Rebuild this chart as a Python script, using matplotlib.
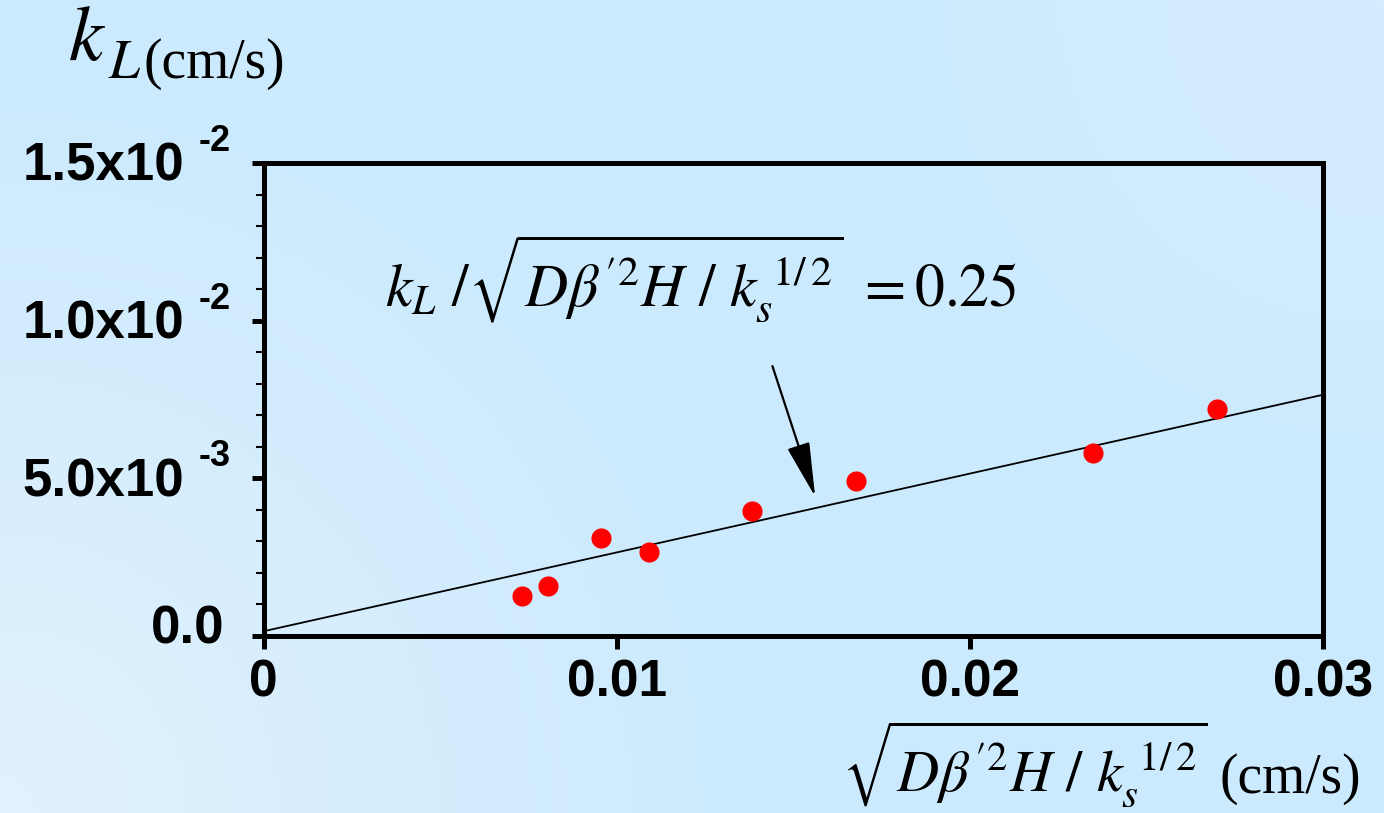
import numpy as np
import matplotlib
matplotlib.use("Agg")
import matplotlib.pyplot as plt

# ---- data ----
x_vals = [0.00731, 0.00805, 0.00956, 0.01092, 0.01383, 0.01678, 0.02350, 0.02699]
y_vals = [0.00127, 0.00159, 0.00311, 0.00266, 0.00396, 0.00493, 0.00581, 0.00719]
fit_x = [0.0, 0.03]
fit_y = [0.00015, 0.00765]
arrow_tail = (0.01441, 0.00856)
arrow_tip = (0.01562, 0.00442)
x_ticks = [0.0, 0.01, 0.02, 0.03]
x_tick_labels = ["0", "0.01", "0.02", "0.03"]
y_ticks = [0.0, 0.005, 0.01, 0.015]
y_tick_mant = ["0.0", "5.0x10", "1.0x10", "1.5x10"]
y_tick_exp = ["", "-3", "-2", "-2"]

plt.rcParams['mathtext.fontset'] = 'stix'

W, H = 1384, 813
fig = plt.figure(figsize=(W / 100, H / 100), dpi=100)

# background gradient
bg = fig.add_axes([0, 0, 1, 1], zorder=-10)
bg.set_axis_off()
yy, xx = np.mgrid[0:1:200j, 0:1:300j]   # yy=0 bottom
base = np.array([204, 234, 253]) / 255.0
light_bl = np.array([226, 242, 253]) / 255.0
light_tr = np.array([213, 237, 253]) / 255.0
d_bl = np.sqrt((xx * 1.7) ** 2 + yy ** 2)
t_bl = np.clip(1 - d_bl / 0.9, 0, 1)
d_tr = np.sqrt(((1 - xx) * 1.7) ** 2 + (1 - yy) ** 2)
t_tr = np.clip(1 - d_tr / 0.6, 0, 1)
img = base[None, None, :] * np.ones_like(xx)[..., None]
img = img * (1 - t_bl[..., None]) + light_bl[None, None, :] * t_bl[..., None]
img = img * (1 - t_tr[..., None]) + light_tr[None, None, :] * t_tr[..., None]
bg.imshow(img, origin='lower', extent=[0, 1, 0, 1], aspect='auto')

ax = fig.add_axes([263.5 / W, 1 - 636 / H, (1323 - 263.5) / W, (636 - 163) / H])
ax.set_facecolor('none')
ax.set_xlim(0, 0.03)
ax.set_ylim(0, 0.015)

ax.plot(fit_x, fit_y, color='black', lw=1.3, zorder=3)
ax.plot(x_vals, y_vals, 'o', color='#ff0000', ms=14.5, mec='none', zorder=4)

ax.annotate('', xy=arrow_tip, xytext=arrow_tail,
            arrowprops=dict(arrowstyle='-|>,head_length=3.4,head_width=0.72',
                            mutation_scale=10, lw=1.6, color='black',
                            shrinkA=0, shrinkB=0), zorder=5)

for s in ax.spines.values():
    s.set_linewidth(3.6)

ax.set_xticks(x_ticks)
ax.set_xticklabels(x_tick_labels, fontfamily='Liberation Sans', fontweight='bold', fontsize=37)
ax.set_yticks(y_ticks)
ax.set_yticklabels([])
ax.set_yticks(np.arange(0, 0.0151, 0.001), minor=True)
ax.tick_params(axis='x', which='major', direction='out', length=9.5, width=3.6, pad=7)
ax.tick_params(axis='y', which='major', direction='out', length=9, width=3.6)
ax.tick_params(axis='y', which='minor', direction='out', length=5.5, width=1.5)

ytr = ax.get_yaxis_transform()
axw = 1323 - 263.5
for v, m, e in zip(y_ticks, y_tick_mant, y_tick_exp):
    if e:
        ax.text((184 - 263.5) / axw, v - 0.00012, m, transform=ytr, ha='right', va='center',
                fontfamily='Liberation Sans', fontweight='bold', fontsize=38)
        ax.text((199 - 263.5) / axw, v + 0.00068, e, transform=ytr, ha='left', va='center',
                fontfamily='Liberation Sans', fontweight='bold', fontsize=26)
    else:
        ax.text((224 - 263.5) / axw, v + 0.00022, m, transform=ytr, ha='right', va='center',
                fontfamily='Liberation Sans', fontweight='bold', fontsize=38)

# y-axis title
fig.text(68 / W, 1 - 60 / H, r'$k$', fontsize=56, va='baseline', ha='left')
fig.text(108 / W, 1 - 78 / H, r'$L$', fontsize=40, va='baseline', ha='left')
fig.text(143 / W, 1 - 78 / H, '(cm/s)', fontsize=40, va='baseline', ha='left',
         fontfamily='Liberation Serif')

# annotation formula
fig.text(385 / W, 1 - 307 / H,
         r'$k_L\ \mathit{/}\sqrt{D\beta^{\prime 2}H\ \mathit{/}\ k_{s}^{\ 1/\,2}}\ = 0.25$',
         fontsize=43, va='baseline', ha='left')

# x-axis title
fig.text(842 / W, 1 - 791 / H,
         r'$\sqrt{D\beta^{\prime 2}H\ \mathit{/}\ k_{s}^{\ 1/\,2}}$',
         fontsize=42, va='baseline', ha='left')
fig.text(1220 / W, 1 - 793 / H, '(cm/s)', fontsize=40, va='baseline', ha='left',
         fontfamily='Liberation Serif')

fig.savefig('out.png', dpi=100)
